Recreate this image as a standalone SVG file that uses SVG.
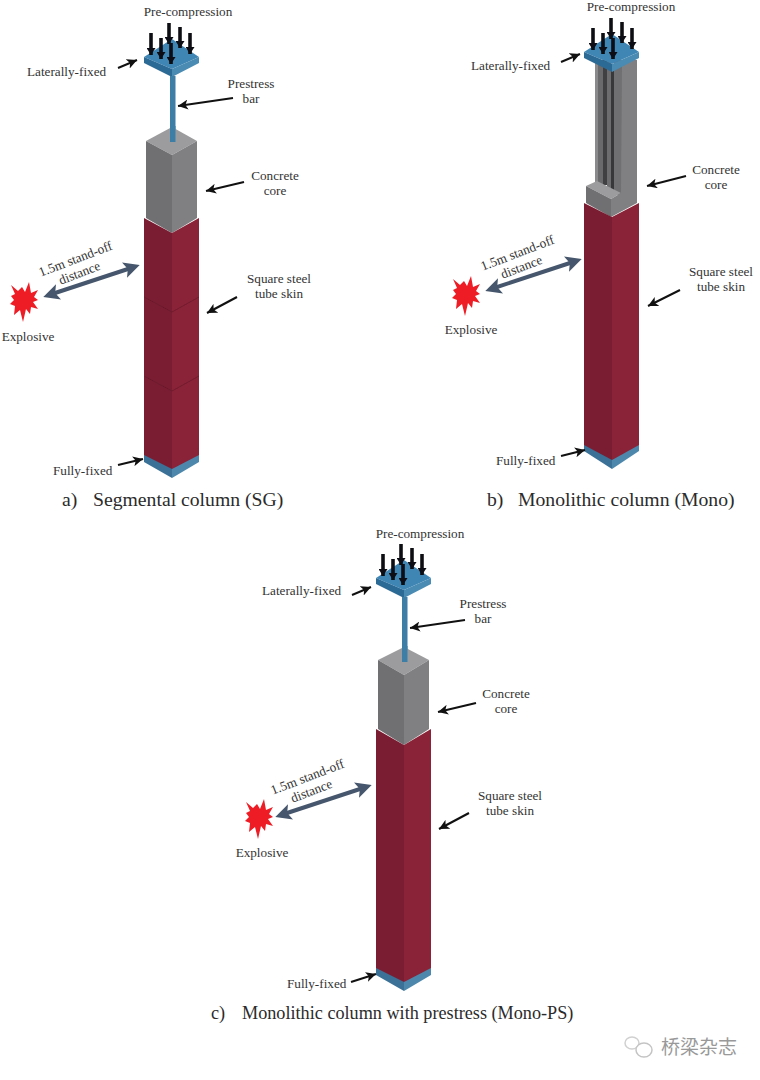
<svg xmlns="http://www.w3.org/2000/svg" xmlns:xlink="http://www.w3.org/1999/xlink" width="760" height="1080" viewBox="0 0 760 1080">
<style>
text{font-family:"Liberation Serif","Times New Roman",serif;font-size:13.200px;fill:#333}
.c{text-anchor:middle}
.cap{font-size:19.700px;fill:#2b2b2b}
.capc{font-size:18.200px;fill:#2b2b2b}
.wm{font-family:"Noto Sans CJK SC",sans-serif;font-size:19px;fill:#999}
.pt{fill:#3f86b5}.pl{fill:#2c6a95}.pr{fill:#4a8bb3}
.cl{fill:#707073}.cr{fill:#808083}.ct{fill:#9c9c9e}
.sl{fill:#7a1e33}.sr{fill:#8a2337}
.bl{fill:#3a7197}.br{fill:#4d88ac}
.bar{fill:#3d7ea6}
.ar{stroke:#111;stroke-width:2;fill:none;marker-end:url(#h)}
.load{stroke:#0b0b12;stroke-width:3.600;fill:none;marker-end:url(#lh)}
.dbl{stroke:#46566c;stroke-width:4;fill:none;marker-start:url(#d);marker-end:url(#d)}
.star{fill:#ee1c25}
.seam{stroke:#5f1526;stroke-width:1;fill:none;opacity:.55}
.soft{filter:url(#s)}
</style>
<defs>
<filter id="s" x="-5%" y="-5%" width="110%" height="110%"><feGaussianBlur stdDeviation="0.45"/></filter>
<marker id="h" markerUnits="userSpaceOnUse" markerWidth="12" markerHeight="10" refX="10" refY="5" orient="auto"><path d="M0 0L10 5L0 10L2.500 5Z" fill="#111"/></marker>
<marker id="lh" markerUnits="userSpaceOnUse" markerWidth="10" markerHeight="9" refX="7" refY="4.500" orient="auto"><path d="M0 0L7 4.500L0 9Z" fill="#0b0b12"/></marker>
<marker id="d" markerUnits="userSpaceOnUse" markerWidth="18" markerHeight="16" refX="10" refY="8" orient="auto-start-reverse"><path d="M0 0L16 8L0 16L3.500 8Z" fill="#46566c"/></marker>
<g id="plate">
<path class="pt" d="M0 0L28 -18L55 0L28 12Z"/>
<path class="pl" d="M0 0L28 12L28 20L0 6Z"/>
<path class="pr" d="M55 0L28 12L28 20L55 6Z"/>
</g>
<g id="loads">
<path class="load" d="M7 -24V-2"/><path class="load" d="M25 -34V-13"/><path class="load" d="M36 -30V-9"/>
<path class="load" d="M46 -24V-3"/><path class="load" d="M17 -19V2"/><path class="load" d="M27 -14V7"/>
</g>
<polygon id="burst" class="star" points="-13,-16 -6,-10 -2,-14 1,-9 5,-19 7,-8 14,-11 10,-4 14,-1 9,1 14,8 7,6 6,13 2,8 -1,21 -4,9 -10,14 -9,5 -14,3 -10,-1 -13,-5 -9,-7"/>
</defs>
<rect width="760" height="1080" fill="#fff"/>

<g id="column-a" class="soft">
<use xlink:href="#plate" href="#plate" x="144" y="57"/>
<rect class="bar" x="170" y="76" width="5.500" height="66"/>
<path class="ct" d="M146 141L172 127L197 141L172 155Z"/>
<rect class="bar" x="170" y="126" width="5.500" height="16"/>
<path class="cl" d="M146 141L172 155V233L146 218Z"/>
<path class="cr" d="M197 141L172 155V233L197 218Z"/>
<path class="bl" d="M144 452L172 468V478L144 462Z"/>
<path class="br" d="M199 452L172 468V478L199 462Z"/>
<path class="sl" d="M144 218L172 233V469L144 455Z"/>
<path class="sr" d="M199 218L172 233V469L199 455Z"/>
<path class="seam" d="M144 297L172 312L199 297M144 376L172 391L199 376"/>
<use xlink:href="#loads" href="#loads" x="144" y="57"/>
</g>

<g id="column-b" class="soft">
<rect x="595" y="60" width="3" height="125" fill="#8a8a8c"/>
<rect x="598" y="60" width="5" height="125" fill="#6a6a6d"/>
<rect x="603" y="60" width="4" height="125" fill="#404043"/>
<rect x="607" y="60" width="4" height="135" fill="#6d6d70"/>
<rect x="611" y="65" width="3" height="130" fill="#38383b"/>
<rect x="614" y="60" width="8" height="135" fill="#6f6f72"/>
<path fill="#9c9c9e" d="M586 186L597 181L621 193L611 199Z"/>
<path class="cl" d="M586 186L611 199V217L586 203Z"/>
<path class="cr" d="M621 193L611 199V217L637 203V60H622Z"/>
<use xlink:href="#plate" href="#plate" x="584" y="52"/>
<path class="bl" d="M584 442L612 459V469L584 451Z"/>
<path class="br" d="M639 442L612 459V469L639 451Z"/>
<path class="sl" d="M584 203L612 217V460L584 445Z"/>
<path class="sr" d="M639 203L612 217V460L639 445Z"/>
<use xlink:href="#loads" href="#loads" x="586" y="52"/>
</g>

<g id="column-c" class="soft">
<use xlink:href="#plate" href="#plate" x="376" y="578"/>
<rect class="bar" x="402" y="597" width="5.500" height="64"/>
<path class="ct" d="M378 660L404 647L429 660L404 675Z"/>
<rect class="bar" x="402" y="646" width="5.500" height="16"/>
<path class="cl" d="M378 660L404 675V745L378 729Z"/>
<path class="cr" d="M429 660L404 675V745L429 729Z"/>
<path class="bl" d="M376 966L404 981V991L376 975Z"/>
<path class="br" d="M431 966L404 981V991L431 975Z"/>
<path class="sl" d="M376 729L404 745V982L376 968Z"/>
<path class="sr" d="M431 729L404 745V982L431 968Z"/>
<use xlink:href="#loads" href="#loads" x="376" y="578"/>
</g>

<g id="connectors">
<path class="ar" d="M118 68L137 60"/><path class="ar" d="M233 98L178 106"/><path class="ar" d="M244 182L206 191"/><path class="ar" d="M237 297L207 313"/><path class="ar" d="M118 465L143 459"/>
<path class="dbl" d="M49 295L134 267"/>
<path class="ar" d="M561 62L580 54"/><path class="ar" d="M686 176L647 186"/><path class="ar" d="M680 290L648 306"/><path class="ar" d="M561 456L585 450"/>
<path class="dbl" d="M491 289L576 261"/>
<path class="ar" d="M352 595L371 587"/><path class="ar" d="M465 620L410 628"/><path class="ar" d="M476 703L438 712"/><path class="ar" d="M469 813L439 829"/><path class="ar" d="M351 982L376 974"/>
<path class="dbl" d="M281 815L366 787"/>
</g>

<g id="blast-a"><use xlink:href="#burst" href="#burst" x="24" y="301"/><text class="c" x="28" y="341">Explosive</text></g>
<g id="blast-b"><use xlink:href="#burst" href="#burst" x="466" y="295"/><text class="c" x="471" y="334">Explosive</text></g>
<g id="blast-c"><use xlink:href="#burst" href="#burst" x="259" y="818"/><text class="c" x="262" y="857">Explosive</text></g>

<g id="labels-a">
<text class="c" x="188" y="16">Pre-compression</text>
<text x="27" y="76">Laterally-fixed</text>
<text class="c" x="251" y="88">Prestress</text><text class="c" x="251" y="103">bar</text>
<text class="c" x="275" y="180">Concrete</text><text class="c" x="275" y="195">core</text>
<text class="c" x="279" y="283">Square steel</text><text class="c" x="279" y="298">tube skin</text>
<text class="c" transform="translate(77 263) rotate(-21)">1.5m stand-off</text>
<text class="c" transform="translate(81 277) rotate(-21)">distance</text>
<text x="53" y="475">Fully-fixed</text>
<text class="cap" x="62" y="506">a)</text><text class="cap" x="93" y="506">Segmental column (SG)</text>
</g>
<g id="labels-b">
<text class="c" x="631" y="11">Pre-compression</text>
<text x="471" y="70">Laterally-fixed</text>
<text class="c" x="716" y="174">Concrete</text><text class="c" x="716" y="189">core</text>
<text class="c" x="721" y="276">Square steel</text><text class="c" x="721" y="291">tube skin</text>
<text class="c" transform="translate(519 257) rotate(-21)">1.5m stand-off</text>
<text class="c" transform="translate(523 271) rotate(-21)">distance</text>
<text x="496" y="465">Fully-fixed</text>
<text class="cap" x="487" y="506">b)</text><text class="cap" x="518" y="506">Monolithic column (Mono)</text>
</g>
<g id="labels-c">
<text class="c" x="420" y="538">Pre-compression</text>
<text x="262" y="595">Laterally-fixed</text>
<text class="c" x="483" y="608">Prestress</text><text class="c" x="483" y="623">bar</text>
<text class="c" x="506" y="698">Concrete</text><text class="c" x="506" y="713">core</text>
<text class="c" x="510" y="800">Square steel</text><text class="c" x="510" y="815">tube skin</text>
<text class="c" transform="translate(309 781) rotate(-21)">1.5m stand-off</text>
<text class="c" transform="translate(313 795) rotate(-21)">distance</text>
<text x="287" y="988">Fully-fixed</text>
<text class="capc" x="211" y="1019">c)</text><text class="capc" x="242" y="1019">Monolithic column with prestress (Mono-PS)</text>
</g>
<g id="watermark">
<ellipse cx="632" cy="1043" rx="7" ry="6" fill="none" stroke="#d0d0d0" stroke-width="1.500"/>
<ellipse cx="644" cy="1050" rx="8" ry="7" fill="#fff" stroke="#c4c4c4" stroke-width="1.500"/>
<text class="wm" x="661" y="1054">桥梁杂志</text>
</g>
</svg>
